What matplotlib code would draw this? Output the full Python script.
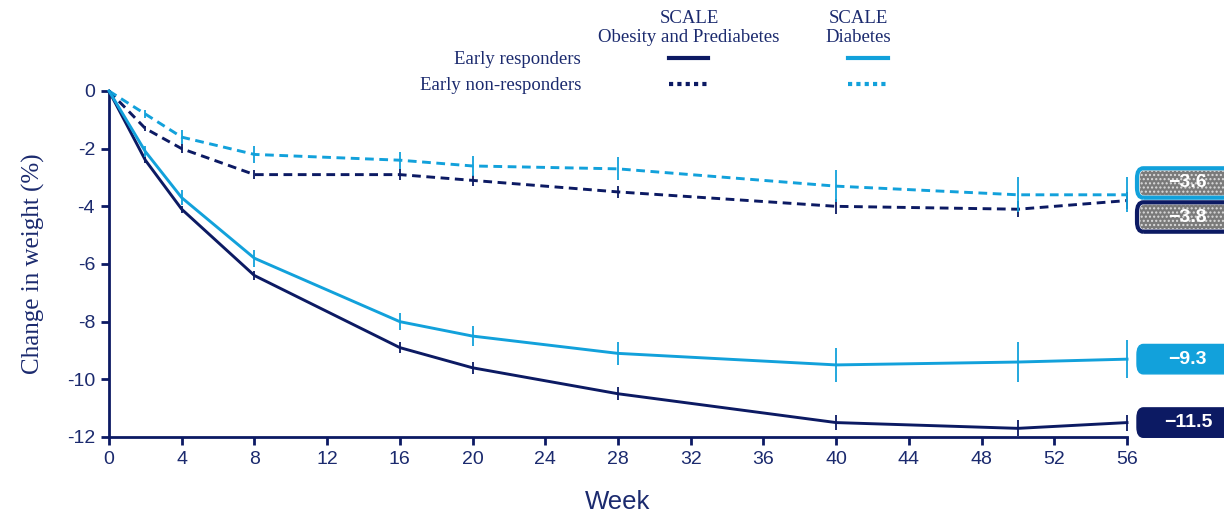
import matplotlib
matplotlib.use("Agg")
import matplotlib.pyplot as plt
from matplotlib.lines import Line2D
from matplotlib.patches import FancyBboxPatch

# ── Data ──────────────────────────────────────────────────────────────────────

WEEKS = [0, 2, 4, 8, 16, 20, 28, 40, 50, 56]

# mean change in body weight (%)
OBESITY_RESP     = [0, -2.4, -4.1, -6.4, -8.9, -9.6, -10.5, -11.5, -11.7, -11.5]
DIABETES_RESP    = [0, -2.1, -3.7, -5.8, -8.0, -8.5, -9.1, -9.5, -9.4, -9.3]
OBESITY_NONRESP  = [0, -1.3, -2.0, -2.9, -2.9, -3.1, -3.5, -4.0, -4.1, -3.8]
DIABETES_NONRESP = [0, -0.8, -1.6, -2.2, -2.4, -2.6, -2.7, -3.3, -3.6, -3.6]

# standard errors (half-length of the error bars)
OBESITY_RESP_SE     = [0, 0.10, 0.12, 0.15, 0.18, 0.20, 0.22, 0.25, 0.28, 0.28]
DIABETES_RESP_SE    = [0, 0.20, 0.25, 0.30, 0.30, 0.35, 0.40, 0.60, 0.70, 0.65]
OBESITY_NONRESP_SE  = [0, 0.10, 0.15, 0.15, 0.18, 0.20, 0.22, 0.25, 0.28, 0.30]
DIABETES_NONRESP_SE = [0, 0.15, 0.25, 0.30, 0.30, 0.35, 0.40, 0.55, 0.60, 0.60]

X_TICKS = list(range(0, 57, 4))
Y_TICKS = [0, -2, -4, -6, -8, -10, -12]

NAVY  = "#0c1a63"
LIGHT = "#12a1db"
TEXT  = "#1b2a6e"

# ── Figure ────────────────────────────────────────────────────────────────────

fig = plt.figure(figsize=(12.24, 5.14), dpi=100)
ax = fig.add_axes([109 / 1224, 1 - 437 / 514, (1127 - 109) / 1224, (437 - 91) / 514])

DASH = (0, (3.0, 1.9))
series = [
    (OBESITY_NONRESP,  OBESITY_NONRESP_SE,  NAVY,  DASH),
    (DIABETES_NONRESP, DIABETES_NONRESP_SE, LIGHT, DASH),
    (OBESITY_RESP,     OBESITY_RESP_SE,     NAVY,  "-"),
    (DIABETES_RESP,    DIABETES_RESP_SE,    LIGHT, "-"),
]
for y, se, color, ls in series:
    ax.plot(WEEKS, y, color=color, linestyle=ls, linewidth=2.1,
            clip_on=False, zorder=3)
    ax.errorbar(WEEKS[1:], y[1:], yerr=se[1:], fmt="none", ecolor=color,
                elinewidth=1.3, capsize=0, clip_on=False, zorder=3)

ax.set_xlim(0, 56)
ax.set_ylim(-12, 0)
ax.set_xticks(X_TICKS)
ax.set_yticks(Y_TICKS)
ax.set_yticklabels([str(v) for v in Y_TICKS])

for side in ("top", "right"):
    ax.spines[side].set_visible(False)
for side in ("left", "bottom"):
    ax.spines[side].set_color(NAVY)
    ax.spines[side].set_linewidth(2.0)
ax.tick_params(colors=NAVY, width=2, length=6, direction="out",
               labelsize=14, labelcolor=TEXT, pad=4)
for lbl in ax.get_xticklabels() + ax.get_yticklabels():
    lbl.set_family("Liberation Sans")

ax.set_ylabel("Change in weight (%)", family="Liberation Serif",
              fontsize=18, color=TEXT, labelpad=16)
ax.set_xlabel("Week", family="Liberation Sans", fontsize=18.5,
              color=TEXT, labelpad=16)

# ── End-of-study value boxes ─────────────────────────────────────────────────

# (value, y position of box, edge colour, fill colour, hatched)
END_LABELS = [
    (DIABETES_NONRESP[-1], -3.19,  LIGHT, "#7a7a7a", True),
    (OBESITY_NONRESP[-1],  -4.37,  NAVY,  "#7a7a7a", True),
    (DIABETES_RESP[-1],    DIABETES_RESP[-1],  LIGHT, LIGHT, False),
    (OBESITY_RESP[-1],     OBESITY_RESP[-1],   NAVY,  NAVY,  False),
]
box_x0, box_w, box_h = 56.55, 6.5, 1.02
for value, ypos, edge, fill, hatched in END_LABELS:
    if hatched:
        back = FancyBboxPatch((box_x0 + 0.15, ypos - box_h / 2 + 0.08),
                              box_w, box_h - 0.16,
                              boxstyle="round,pad=0,rounding_size=0.25",
                              facecolor=fill, edgecolor="#dcdcdc",
                              hatch="....", linewidth=0,
                              transform=ax.transData, clip_on=False, zorder=4)
        ax.add_patch(back)
        frame = FancyBboxPatch((box_x0, ypos - box_h / 2), box_w, box_h,
                               boxstyle="round,pad=0,rounding_size=0.35",
                               facecolor="none", edgecolor=edge, linewidth=3,
                               transform=ax.transData, clip_on=False, zorder=5)
        ax.add_patch(frame)
    else:
        box = FancyBboxPatch((box_x0, ypos - box_h / 2), box_w, box_h,
                             boxstyle="round,pad=0,rounding_size=0.35",
                             facecolor=fill, edgecolor=edge, linewidth=1,
                             transform=ax.transData, clip_on=False, zorder=4)
        ax.add_patch(box)
    ax.text(59.35, ypos, f"\u2212{abs(value):.1f}", ha="center", va="center",
            color="white", fontsize=14, fontweight="bold",
            family="Liberation Sans", clip_on=False, zorder=6)

# ── Legend block ─────────────────────────────────────────────────────────────

def fx(px):
    return px / 1224

def fy(px):
    return 1 - px / 514

fig.text(fx(689), fy(28), "SCALE\nObesity and Prediabetes", ha="center",
         va="center", family="Liberation Serif", fontsize=13.5, color=TEXT,
         linespacing=1.15)
fig.text(fx(858), fy(28), "SCALE\nDiabetes", ha="center", va="center",
         family="Liberation Serif", fontsize=13.5, color=TEXT, linespacing=1.15)
fig.text(fx(581), fy(60), "Early responders", ha="right", va="center",
         family="Liberation Serif", fontsize=13.5, color=TEXT)
fig.text(fx(581), fy(86), "Early non-responders", ha="right", va="center",
         family="Liberation Serif", fontsize=13.5, color=TEXT)

for x0, x1, color in [(669, 708, NAVY), (848, 888, LIGHT)]:
    fig.add_artist(Line2D([fx(x0), fx(x1)], [fy(58), fy(58)], color=color,
                          linewidth=3, transform=fig.transFigure))
    fig.add_artist(Line2D([fx(x0), fx(x1)], [fy(84), fy(84)], color=color,
                          linewidth=3, linestyle=(0, (1, 1)),
                          transform=fig.transFigure))

fig.savefig("out.png", dpi=100, facecolor="white")
